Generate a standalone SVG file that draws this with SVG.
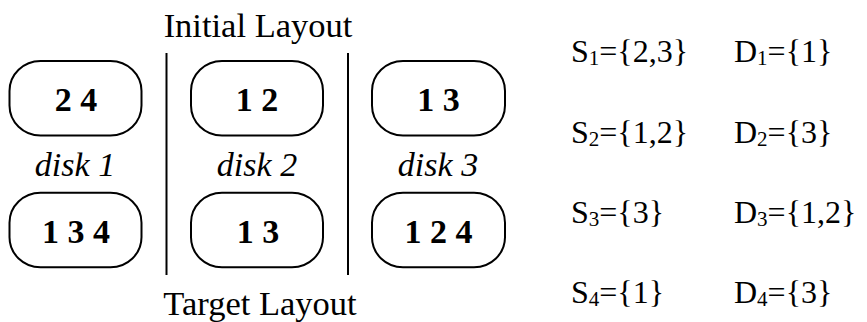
<svg xmlns="http://www.w3.org/2000/svg" width="867" height="322" viewBox="0 0 867 322">
<style>
.pill{fill:#fff;stroke:#000;stroke-width:2}
.num{font-size:34px;font-weight:bold;text-anchor:middle}
.lbl{font-size:34px;font-style:italic;text-anchor:middle}
.title{font-size:34.5px;text-anchor:middle}
.set{font-size:32px}
.sub{font-size:21px}
.sep{stroke:#000;stroke-width:2}
</style>
<rect width="867" height="322" fill="#fff"/>
<g font-family="'Liberation Serif', Tinos, 'DejaVu Serif', serif" fill="#000">
<text class="title" x="258" y="37">Initial Layout</text>
<text class="title" x="260" y="315">Target Layout</text>
<g id="separators">
<line class="sep" x1="166.5" y1="53" x2="166.5" y2="275"/>
<line class="sep" x1="348" y1="53" x2="348" y2="275"/>
</g>
<g id="disk1-initial"><rect class="pill" x="9.5" y="61" width="132" height="74.5" rx="31" ry="30"/><text class="num" x="76" y="111">2 4</text></g>
<g id="disk2-initial"><rect class="pill" x="191" y="61" width="132" height="74.5" rx="31" ry="30"/><text class="num" x="257" y="111">1 2</text></g>
<g id="disk3-initial"><rect class="pill" x="372" y="61" width="133" height="74.5" rx="31" ry="30"/><text class="num" x="438.5" y="111">1 3</text></g>
<g id="disk-labels">
<text class="lbl" x="75" y="176">disk 1</text>
<text class="lbl" x="257" y="176">disk 2</text>
<text class="lbl" x="438" y="176">disk 3</text>
</g>
<g id="disk1-target"><rect class="pill" x="9.5" y="192.7" width="132" height="74.5" rx="31" ry="30"/><text class="num" x="76" y="243">1 3 4</text></g>
<g id="disk2-target"><rect class="pill" x="191" y="192.7" width="132" height="74.5" rx="31" ry="30"/><text class="num" x="258" y="243">1 3</text></g>
<g id="disk3-target"><rect class="pill" x="372" y="192.7" width="133" height="74.5" rx="31" ry="30"/><text class="num" x="438.5" y="243">1 2 4</text></g>
<g id="sets">
<text class="set" x="571" y="62">S<tspan class="sub" dy="3">1</tspan><tspan dy="-3">={2,3}</tspan></text>
<text class="set" x="734" y="62">D<tspan class="sub" dy="3">1</tspan><tspan dy="-3">={1}</tspan></text>
<text class="set" x="571" y="142.5">S<tspan class="sub" dy="3">2</tspan><tspan dy="-3">={1,2}</tspan></text>
<text class="set" x="734" y="142.5">D<tspan class="sub" dy="3">2</tspan><tspan dy="-3">={3}</tspan></text>
<text class="set" x="571" y="223">S<tspan class="sub" dy="3">3</tspan><tspan dy="-3">={3}</tspan></text>
<text class="set" x="734" y="223">D<tspan class="sub" dy="3">3</tspan><tspan dy="-3">={1,2}</tspan></text>
<text class="set" x="571" y="303">S<tspan class="sub" dy="3">4</tspan><tspan dy="-3">={1}</tspan></text>
<text class="set" x="734" y="303">D<tspan class="sub" dy="3">4</tspan><tspan dy="-3">={3}</tspan></text>
</g>
</g>
</svg>
